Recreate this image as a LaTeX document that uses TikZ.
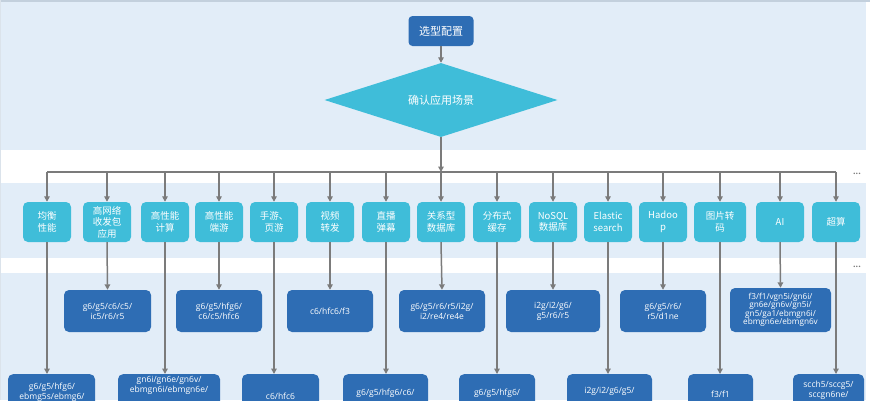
\documentclass[tikz,border=0pt]{standalone}
\usepackage{fontspec}
\setmainfont{Open Sans}
\newfontfamily\cjk{Noto Sans CJK SC}
\usetikzlibrary{shapes.geometric,arrows.meta}
\definecolor{bgblue}{HTML}{E2EDF8}
\definecolor{framec}{HTML}{C3D0DD}
\definecolor{darkbox}{HTML}{2E6DB4}
\definecolor{cyanbox}{HTML}{3FBDD9}
\definecolor{linegray}{HTML}{7B7B7B}
\begin{document}
\begin{tikzpicture}[x=1pt,y=-1pt,
  startbox/.style={fill=darkbox, draw=none, rounded corners=4pt, text=white, minimum width=65pt, minimum height=30pt, inner sep=0pt, font=\cjk\fontsize{11}{13}\selectfont},
  decide/.style={diamond, fill=cyanbox, draw=none, aspect=3.15, minimum width=233pt, minimum height=74pt, inner sep=0pt, text=white, font=\cjk\fontsize{11}{13}\selectfont},
  scen/.style={fill=cyanbox, draw=none, rounded corners=5pt, text=white, minimum width=48pt, minimum height=40pt, inner sep=0pt, align=center, font=\cjk\fontsize{9.5}{11.5}\selectfont},
  midbox/.style={fill=darkbox, draw=none, rounded corners=5pt, text=white, minimum height=42pt, inner sep=0pt, align=center, font=\fontsize{8.5}{10}\selectfont},
  botbox/.style={fill=darkbox, draw=none, rounded corners=5pt, anchor=north, minimum height=60pt, inner sep=0pt},
  bottext/.style={text=white, anchor=north, inner sep=0pt, align=center, font=\fontsize{8.5}{10}\selectfont},
  conn/.style={draw=linegray, line width=1.5pt},
  arr/.style={conn, -{Triangle[length=5.5pt,width=5.5pt]}},
  dots/.style={text=linegray, inner sep=0pt, font=\bfseries\fontsize{9}{9}\selectfont}
]
\useasboundingbox (0,0) rectangle (870,400);
\begin{scope}
\clip (0,0) rectangle (870,400);
% background bands
\fill[white] (0,0) rectangle (870,400);
\fill[bgblue] (0,0) rectangle (866,150);
\fill[bgblue] (0,183) rectangle (866,258);
\fill[bgblue] (0,273) rectangle (866,400);
\fill[framec] (0,0) rectangle (870,2);
\fill[framec!60] (0,0) rectangle (1.2,400);
\node[dots] (dotsA) at (857,174) {...};
\node[dots] (dotsB) at (857,267) {...};

% top
\node[startbox] (start) at (441,31) {选型配置};
\node[decide] (dec) at (441,100) {确认应用场景};
\draw[arr] (start) -- (dec);
\coordinate (bar) at (441,172);

% scenario nodes
\node[scen] (s1) at (47,222) {均衡\\性能};
\node[scen] (s2) at (107,222) {高网络\\收发包\\应用};
\node[scen] (s3) at (165,222) {高性能\\计算};
\node[scen] (s4) at (219,222) {高性能\\端游};
\node[scen] (s5) at (274,222) {手游、\\页游};
\node[scen] (s6) at (330,222) {视频\\转发};
\node[scen] (s7) at (386,222) {直播\\弹幕};
\node[scen] (s8) at (441,222) {关系型\\数据库};
\node[scen] (s9) at (497,222) {分布式\\缓存};
\node[scen] (s10) at (553,222) {NoSQL\\数据库};
\node[scen] (s11) at (608,222) {Elastic\\search};
\node[scen] (s12) at (663,222) {Hadoo\\p};
\node[scen, minimum width=52pt] (s13) at (720,222) {图片转\\码};
\node[scen] (s14) at (780,222) {AI};
\node[scen] (s15) at (836,222) {超算};

\draw[arr] (dec.south) -- (bar);
\draw[conn] (s1.north |- bar) -- (s15.north |- bar);
\foreach \i in {1,...,15} {
  \draw[arr] (s\i.north |- bar) -- (s\i.north);
}

% middle boxes
\node[midbox, minimum width=87pt] (m2) at (107.5,311) {g6/g5/c6/c5/\\ic5/r6/r5};
\node[midbox, minimum width=86pt] (m4) at (219,311) {g6/g5/hfg6/\\c6/c5/hfc6};
\node[midbox, minimum width=86pt] (m6) at (330,311) {c6/hfc6/f3};
\node[midbox, minimum width=86pt] (m8) at (442,311) {g6/g5/r6/r5/i2g/\\i2/re4/re4e};
\node[midbox, minimum width=94pt] (m10) at (553,311) {i2g/i2/g6/\\g5/r6/r5};
\node[midbox, minimum width=86pt] (m12) at (663,311) {g6/g5/r6/\\r5/d1ne};
\node[midbox, minimum width=101pt, minimum height=44pt, font=\fontsize{8.2}{8.4}\selectfont] (m14) at (780.5,310) {f3/f1/vgn5i/gn6i/\\gn6e/gn6v/gn5i/\\gn5/ga1/ebmgn6i/\\ebmgn6e/ebmgn6v};
\foreach \i in {2,4,6,8,10,12,14} {
  \draw[arr] (s\i.south) -- (m\i.north);
}

% bottom boxes
\node[botbox, minimum width=87pt] (b1) at (51.5,374) {};
\node[botbox, minimum width=102pt] (b3) at (169,374) {};
\node[botbox, minimum width=77pt] (b5) at (280.5,374) {};
\node[botbox, minimum width=85pt] (b7) at (385.5,374) {};
\node[botbox, minimum width=76pt] (b9) at (497,374) {};
\node[botbox, minimum width=85pt] (b11) at (609.5,374) {};
\node[botbox, minimum width=65pt] (b13) at (720.5,374) {};
\node[botbox, minimum width=71pt] (b15) at (828.5,374) {};

\node[bottext] (t1) at (52,382.5) {g6/g5/hfg6/\\ebmg5s/ebmg6/};
\node[bottext] (t3) at (169,376.5) {gn6i/gn6e/gn6v/\\ebmgn6i/ebmgn6e/};
\node[bottext] (t5) at (280.5,392.5) {c6/hfc6};
\node[bottext] (t7) at (385.5,388.5) {g6/g5/hfg6/c6/};
\node[bottext] (t9) at (497,388.5) {g6/g5/hfg6/};
\node[bottext] (t11) at (609.5,387.5) {i2g/i2/g6/g5/};
\node[bottext] (t13) at (720.5,390.5) {f3/f1};
\node[bottext] (t15) at (828.5,380.5) {scch5/sccg5/\\sccgn6ne/};

\foreach \i in {1,3,5,7,9,11,13,15} {
  \draw[arr] (s\i.south) -- (s\i.south |- b\i.north);
}
\end{scope}
\end{tikzpicture}
\end{document}
